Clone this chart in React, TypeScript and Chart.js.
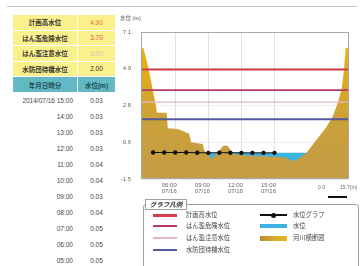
import React, { useEffect, useRef } from "react";
import { Chart, registerables } from "chart.js";
Chart.register(...registerables);

// ---- data ----
const thresholdNames = ["計画高水位", "はん濫危険水位", "はん濫注意水位", "水防団待機水位"];
const thresholdValues = [4.9, 3.7, 3.0, 2.0];
const thresholdText = ["4.90", "3.70", "3.00", "2.00"];

const obsDate = "2014/07/16";
const obsTimes = ["15:00", "14:00", "13:00", "12:00", "11:00", "10:00", "09:00", "08:00", "07:00", "06:00", "05:00", "04:00"];
const obsHours = [15, 14, 13, 12, 11, 10, 9, 8, 7, 6, 5, 4];
const obsLevels = [0.03, 0.03, 0.03, 0.03, 0.04, 0.04, 0.03, 0.04, 0.05, 0.05, 0.05, 0.05];

// river cross-section: distance (m) / ground elevation (m)
const sectionDist = [0, 1.7, 5.6, 8.4, 10.8, 11.5, 18.5, 19.3, 26.5, 34.8, 36.1, 44.5, 45.7, 51.2, 55.3, 59.4, 62.5, 66.1, 75.7, 103.1, 110.3, 118.8, 126.0, 133.2, 138.0, 141.6, 144.7, 146.4, 147.6, 150];
const sectionElev = [6.18, 6.18, 4.92, 3.75, 2.77, 2.38, 2.38, 1.47, 1.43, 1.14, 0.65, 0.55, 0.16, -0.33, 0.06, 0.45, 0.45, -0.03, -0.13, -0.23, -0.46, -0.03, 0.74, 1.49, 2.11, 2.89, 3.75, 4.92, 6.18, 6.18];

const yTickValues = [-1.5, 0.65, 2.8, 4.95, 7.1];
const yTickLabels = ["-1.5", "0.6", "2.8", "4.9", "7.1"];
const timeTickHours = [6, 9, 12, 15];
const timeTickLabels = ["06:00", "09:00", "12:00", "15:00"];
const timeTickDate = "07/16";

const legendLeft = ["計画高水位", "はん濫危険水位", "はん濫注意水位", "水防団待機水位"];
const legendRight = ["水位グラフ", "水位", "河川横断図"];

// ---- styles ----
const thresholdColors = ["#d23c4a", "#b8386a", "#e6b6c8", "#55589c"];
const thresholdWidths = [2, 1.6, 1.2, 2];
const valueColors = ["#e8742a", "#d85a5a", "#e6c4b4", "#333333"];
const FONT = '"Liberation Sans", "Noto Sans CJK JP", sans-serif';

export default function App() {
  const ref = useRef<HTMLCanvasElement | null>(null);

  useEffect(() => {
    if (!ref.current) return;
    const frame = {
      id: "frame",
      afterDatasetsDraw(chart: any) {
        const { ctx, chartArea: a } = chart;
        ctx.save();
        ctx.strokeStyle = "#a8a8a8";
        ctx.lineWidth = 1;
        ctx.strokeRect(a.left + 0.5, a.top + 0.5, a.right - a.left - 1, a.bottom - a.top - 1);
        ctx.restore();
      },
    };
    const groundFill = (c: any) => {
      const ch = c.chart;
      const a = ch.chartArea;
      if (!a) return "#cda03a";
      const g = ch.ctx.createLinearGradient(0, a.top, 0, a.bottom);
      g.addColorStop(0, "#ecb70e");
      g.addColorStop(0.35, "#dcaa22");
      g.addColorStop(0.6, "#cba13a");
      g.addColorStop(1, "#c49c44");
      return g;
    };
    const chart = new Chart(ref.current, {
      type: "line",
      data: {
        datasets: [
          {
            label: "水位グラフ",
            xAxisID: "xTime",
            data: obsHours.map((h, i) => ({ x: h, y: obsLevels[i] })),
            borderColor: "#111",
            borderWidth: 1,
            pointRadius: 2.2,
            pointBackgroundColor: "#111",
            pointBorderWidth: 0,
            fill: false,
            order: 0,
          } as any,
          ...thresholdValues.map((v, i) => ({
            label: thresholdNames[i],
            xAxisID: "x",
            data: [
              { x: 0, y: v },
              { x: 150, y: v },
            ],
            borderColor: thresholdColors[i],
            borderWidth: thresholdWidths[i],
            pointRadius: 0,
            fill: false,
            order: 1,
          })),
          {
            label: "河川横断図",
            xAxisID: "x",
            data: sectionDist.map((d, i) => ({ x: d, y: sectionElev[i] })),
            fill: "start",
            backgroundColor: groundFill,
            borderColor: "#c9a03c",
            borderWidth: 0,
            pointRadius: 0,
            tension: 0,
            order: 2,
          },
          {
            label: "水位",
            xAxisID: "x",
            data: [
              { x: 0, y: obsLevels[0] },
              { x: 150, y: obsLevels[0] },
            ],
            fill: "start",
            backgroundColor: "#3db3e3",
            borderWidth: 0,
            pointRadius: 0,
            order: 3,
          },
        ],
      },
      options: {
        animation: false,
        responsive: false,
        devicePixelRatio: 1,
        layout: { padding: { top: 22, right: 12, left: 0, bottom: 0 } },
        plugins: { legend: { display: false }, tooltip: { enabled: false } },
        scales: {
          x: { type: "linear", min: 0, max: 150, display: false },
          xTime: {
            type: "linear",
            position: "bottom",
            min: 2.9,
            max: 21.75,
            afterBuildTicks: (s: any) => {
              s.ticks = timeTickHours.map((v) => ({ value: v }));
            },
            afterFit: (s: any) => {
              s.height = 21;
            },
            ticks: {
              callback: (_v: any, i: number) => [timeTickLabels[i], timeTickDate],
              font: { size: 6, family: FONT, lineHeight: 1.05 },
              color: "#666",
              padding: 3,
              labelOffset: -6,
              maxRotation: 0,
              autoSkip: false,
            },
            grid: { color: "#e0e0e0", drawTicks: false },
            border: { display: false },
          },
          y: {
            type: "linear",
            min: -1.5,
            max: 7.1,
            afterBuildTicks: (s: any) => {
              s.ticks = yTickValues.map((v) => ({ value: v }));
            },
            afterFit: (s: any) => {
              s.width = 31;
            },
            ticks: {
              callback: (_v: any, i: number) => yTickLabels[i],
              font: { size: 6, family: FONT },
              color: "#666",
              padding: 10,
              autoSkip: false,
            },
            grid: { color: "#ececec", drawTicks: false },
            border: { display: false },
          },
        },
      } as any,
      plugins: [frame],
    });
    return () => chart.destroy();
  }, []);

  const abs = (s: any) => ({ position: "absolute" as const, ...s });

  return (
    <div
      style={{
        position: "fixed",
        left: 0,
        top: 0,
        width: 361,
        height: 266,
        overflow: "hidden",
        background: "#fff",
        fontFamily: FONT,
      }}
    >
      <div style={abs({ left: 7, top: 6, width: 350, height: 1, background: "#c8c8c8" })} />

      {/* threshold table */}
      {thresholdNames.map((n, i) => (
        <React.Fragment key={n}>
          <div
            style={abs({
              left: 13,
              top: 15 + i * 15.5,
              width: 64,
              height: 14.5,
              background: "#faf08c",
              fontSize: 6.5,
              fontWeight: 700,
              color: "#333",
              display: "flex",
              alignItems: "center",
              justifyContent: "center",
            })}
          >
            {n}
          </div>
          <div
            style={abs({
              left: 78,
              top: 15 + i * 15.5,
              width: 37,
              height: 14.5,
              background: "#faf08c",
              fontSize: 6.5,
              color: valueColors[i],
              display: "flex",
              alignItems: "center",
              justifyContent: "center",
            })}
          >
            {thresholdText[i]}
          </div>
        </React.Fragment>
      ))}
      <div
        style={abs({
          left: 13,
          top: 77,
          width: 64,
          height: 15,
          background: "#63b9c3",
          fontSize: 6.5,
          fontWeight: 700,
          color: "#1f4d55",
          display: "flex",
          alignItems: "center",
          justifyContent: "center",
        })}
      >
        年月日時分
      </div>
      <div
        style={abs({
          left: 78,
          top: 77,
          width: 37,
          height: 15,
          background: "#63b9c3",
          fontSize: 6.5,
          fontWeight: 700,
          color: "#1f4d55",
          display: "flex",
          alignItems: "center",
          justifyContent: "center",
        })}
      >
        水位(m)
      </div>
      {obsTimes.map((t, i) => (
        <React.Fragment key={t}>
          <div
            style={abs({
              left: 5,
              top: 96 + i * 16,
              width: 68,
              height: 10,
              lineHeight: "10px",
              fontSize: 6.5,
              color: "#444",
              textAlign: "right",
              whiteSpace: "nowrap",
            })}
          >
            {i === 0 ? `${obsDate} ${t}` : t}
          </div>
          <div
            style={abs({
              left: 78,
              top: 96 + i * 16,
              width: 37,
              height: 10,
              lineHeight: "10px",
              fontSize: 6.5,
              color: "#444",
              textAlign: "center",
            })}
          >
            {obsLevels[i].toFixed(2)}
          </div>
        </React.Fragment>
      ))}

      {/* chart */}
      <div style={abs({ left: 120, top: 14, fontSize: 5.5, color: "#555", whiteSpace: "nowrap" })}>水位 (m)</div>
      <canvas ref={ref} width={251} height={190} style={abs({ left: 110, top: 10, width: 251, height: 190 })} />

      {/* scale bar */}
      <div style={abs({ left: 318, top: 184, fontSize: 5, color: "#666" })}>0.0</div>
      <div style={abs({ left: 340, top: 184, fontSize: 5, color: "#666", whiteSpace: "nowrap" })}>15.7(m)</div>
      <div style={abs({ left: 328, top: 196, width: 19, height: 2, background: "#111" })} />

      {/* legend */}
      <div
        style={abs({
          left: 143,
          top: 204,
          width: 214,
          height: 70,
          border: "1px solid #a0a0a0",
          borderRadius: 3,
        })}
      />
      <div
        style={abs({
          left: 145,
          top: 199,
          width: 40,
          height: 9,
          lineHeight: "9px",
          border: "1px solid #a0a0a0",
          background: "#fff",
          fontSize: 6.5,
          fontWeight: 700,
          fontStyle: "italic",
          color: "#333",
          textAlign: "center",
        })}
      >
        グラフ凡例
      </div>
      {legendLeft.map((n, i) => {
        const y = [215, 226, 238, 250][i];
        return (
          <React.Fragment key={n}>
            <div
              style={abs({
                left: 153,
                top: y - thresholdWidths[i] / 2 - (i === 0 ? 0.5 : 0),
                width: 24,
                height: i === 0 ? 3 : thresholdWidths[i],
                background: thresholdColors[i],
              })}
            />
            <div style={abs({ left: 186, top: y - 5, height: 10, lineHeight: "10px", fontSize: 6.3, color: "#444", whiteSpace: "nowrap" })}>
              {n}
            </div>
          </React.Fragment>
        );
      })}
      {legendRight.map((n, i) => {
        const y = [215, 226, 238][i];
        return (
          <React.Fragment key={n}>
            {i === 0 && (
              <>
                <div style={abs({ left: 260, top: y - 0.75, width: 27, height: 1.5, background: "#111" })} />
                <div style={abs({ left: 271, top: y - 2.5, width: 5, height: 5, borderRadius: 3, background: "#111" })} />
              </>
            )}
            {i === 1 && <div style={abs({ left: 260, top: y - 2, width: 27, height: 4, background: "#3db3e3" })} />}
            {i === 2 && (
              <div
                style={abs({
                  left: 260,
                  top: y - 2.5,
                  width: 27,
                  height: 5,
                  background: "linear-gradient(90deg, #b88f30, #d8ab2c, #e6b622)",
                })}
              />
            )}
            <div style={abs({ left: 293, top: y - 5, height: 10, lineHeight: "10px", fontSize: 6.3, color: "#444", whiteSpace: "nowrap" })}>
              {n}
            </div>
          </React.Fragment>
        );
      })}
    </div>
  );
}
